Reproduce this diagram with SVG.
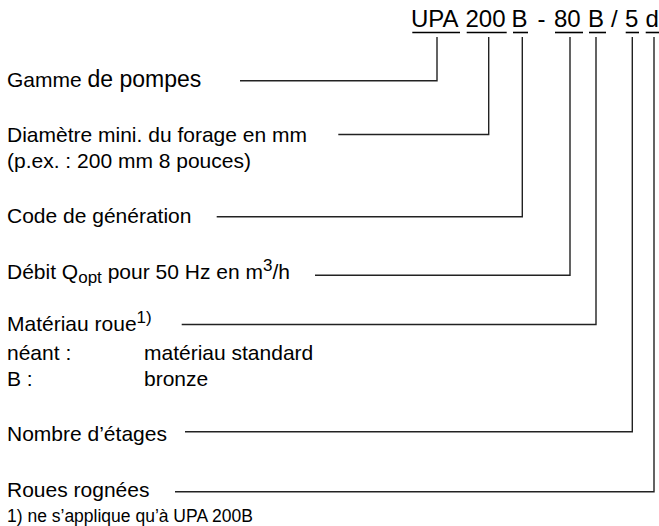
<svg xmlns="http://www.w3.org/2000/svg" width="659" height="526" viewBox="0 0 659 526">
<style>
text{font-family:"Liberation Sans",Arial,Helvetica,sans-serif;fill:#000}
.code{font-size:24px}
.lbl{font-size:21px}
.small{font-size:17px}
.foot{font-size:17.5px}
.ln{stroke:#222;stroke-width:1.4;fill:none}
.ul{stroke:#000;stroke-width:1.6}
</style>
<rect width="659" height="526" fill="#fff"/>
<g id="code">
<text class="code" y="27"><tspan x="411">UPA</tspan><tspan x="465.5">200</tspan><tspan x="511.5">B</tspan><tspan x="537.5">-</tspan><tspan x="554">80</tspan><tspan x="588">B</tspan><tspan x="611">/</tspan><tspan x="625">5</tspan><tspan x="645.5">d</tspan></text>
<line class="ul" x1="412.3" y1="32.5" x2="460" y2="32.5"/>
<line class="ul" x1="466.7" y1="32.5" x2="506.7" y2="32.5"/>
<line class="ul" x1="513" y1="32.5" x2="528" y2="32.5"/>
<line class="ul" x1="555" y1="32.5" x2="583" y2="32.5"/>
<line class="ul" x1="589" y1="32.5" x2="606" y2="32.5"/>
<line class="ul" x1="625.7" y1="32.5" x2="639" y2="32.5"/>
<line class="ul" x1="645.7" y1="32.5" x2="659" y2="32.5"/>
</g>
<g id="gamme"><text class="lbl" x="7" y="87">Gamme <tspan style="font-size:23px">de pompes</tspan></text></g>
<g id="diametre"><text class="lbl" x="7" y="141.5">Diamètre mini. du forage en mm</text><text class="lbl" x="7" y="167.5">(p.ex. : 200 mm 8 pouces)</text></g>
<g id="generation"><text class="lbl" x="7" y="222.5">Code de génération</text></g>
<g id="debit"><text class="lbl" x="7" y="278.5">Débit Q<tspan class="small" dy="4">opt</tspan><tspan dy="-4"> pour 50 Hz en m</tspan><tspan class="small" dy="-8">3</tspan><tspan dy="8">/h</tspan></text></g>
<g id="materiau"><text class="lbl" x="7" y="330.5">Matériau roue<tspan class="small" dy="-8">1)</tspan></text>
<text class="lbl" x="7" y="359.5">néant :</text><text class="lbl" x="144" y="359.5">matériau standard</text>
<text class="lbl" x="7" y="385.5">B :</text><text class="lbl" x="144" y="385.5">bronze</text></g>
<g id="etages"><text class="lbl" x="7" y="440.5">Nombre d’étages</text></g>
<g id="roues"><text class="lbl" x="7" y="497">Roues rognées</text></g>
<g id="footnote"><text class="foot" x="7" y="521.5">1) ne s’applique qu’à UPA 200B</text></g>
<g id="connectors">
<polyline class="ln" points="240,80.7 437,80.7 437,37"/>
<polyline class="ln" points="338.3,134.5 488.7,134.5 488.7,37"/>
<polyline class="ln" points="216.7,216.7 522.3,216.7 522.3,37"/>
<polyline class="ln" points="315,275.3 570,275.3 570,37"/>
<polyline class="ln" points="181.7,324.5 596,324.5 596,37"/>
<polyline class="ln" points="185,431.7 632.3,431.7 632.3,37"/>
<polyline class="ln" points="175,491.7 654,491.7 654,37"/>
</g>
</svg>
